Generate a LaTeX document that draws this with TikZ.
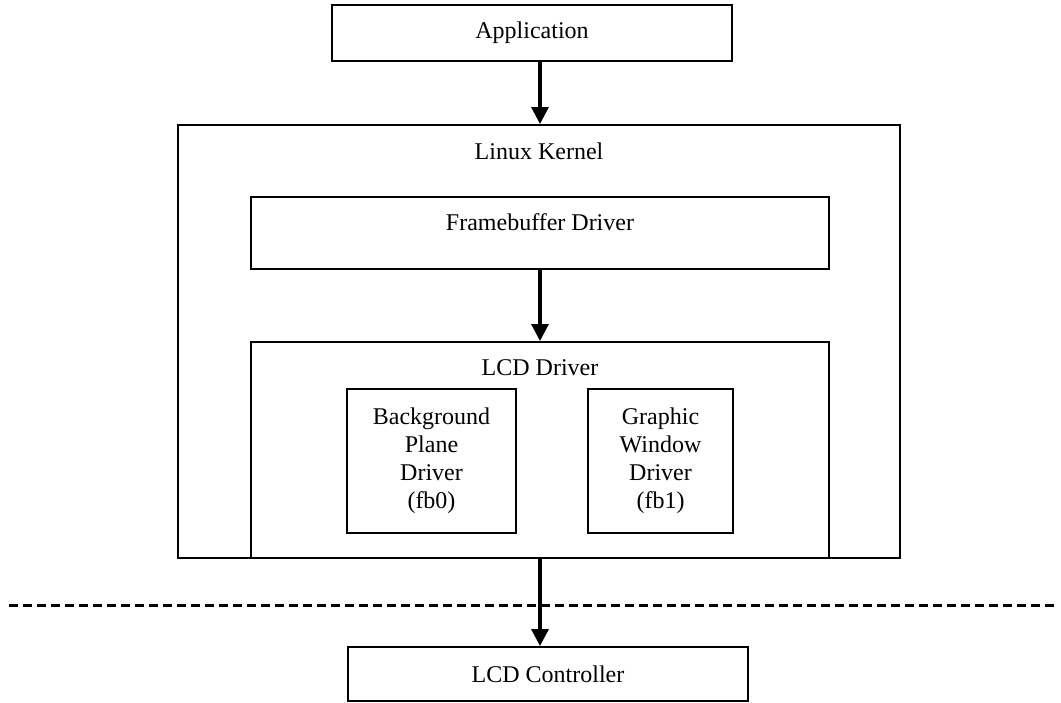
\documentclass[tikz,border=0pt]{standalone}
\usepackage{fontspec}
\setmainfont{Liberation Serif}
\usetikzlibrary{arrows.meta}
\begin{document}
\begin{tikzpicture}[x=0.5pt,y=-0.5pt,
  every node/.style={font=\fontsize{12}{14}\selectfont},
  box/.style={draw,line width=1pt,rectangle,inner sep=0pt,align=center},
  caption/.style={anchor=base,inner sep=0pt},
  flow/.style={line width=1.6pt,-{Triangle[length=8.5pt,width=8.5pt]}},
  divider/.style={line width=1.5pt,dash pattern=on 4.5pt off 2.5pt}]
\useasboundingbox (0,0) rectangle (1061,702);

% outer kernel frame and its sub-blocks
\node[box,minimum width=361pt,minimum height=216.5pt] (kernel) at (539,341.5) {};
\node[box,minimum width=200pt,minimum height=28pt] (app) at (532,33) {Application};
\node[box,minimum width=289pt,minimum height=36pt] (fb) at (540,233) {};
\node[box,minimum width=289pt,minimum height=108pt] (lcd) at (540,450) {};
\node[box,minimum width=84.5pt,minimum height=72pt] (bg) at (431.5,461)
  {Background\\Plane\\Driver\\(fb0)};
\node[box,minimum width=72.5pt,minimum height=72pt] (gw) at (660.5,461)
  {Graphic\\Window\\Driver\\(fb1)};
\node[box,minimum width=200pt,minimum height=27pt] (ctrl) at (548,674) {LCD Controller};

% captions placed near the top of their frames
\node[caption] (kernelcap) at (539,159) {Linux Kernel};
\node[caption] (fbcap) at (540,230) {Framebuffer Driver};
\node[caption] (lcdcap) at (540,375) {LCD Driver};

% hardware/software boundary
\coordinate (dl) at (9,605);
\coordinate (dr) at (1056,605);
\draw[divider] (dl) -- (dr);

% data flow
\draw[flow] (app.south -| fb.center) -- (kernel.north -| fb.center);
\draw[flow] (fb.south) -- (lcd.north);
\draw[flow] (lcd.south) -- (lcd.south |- ctrl.north);
\end{tikzpicture}
\end{document}
